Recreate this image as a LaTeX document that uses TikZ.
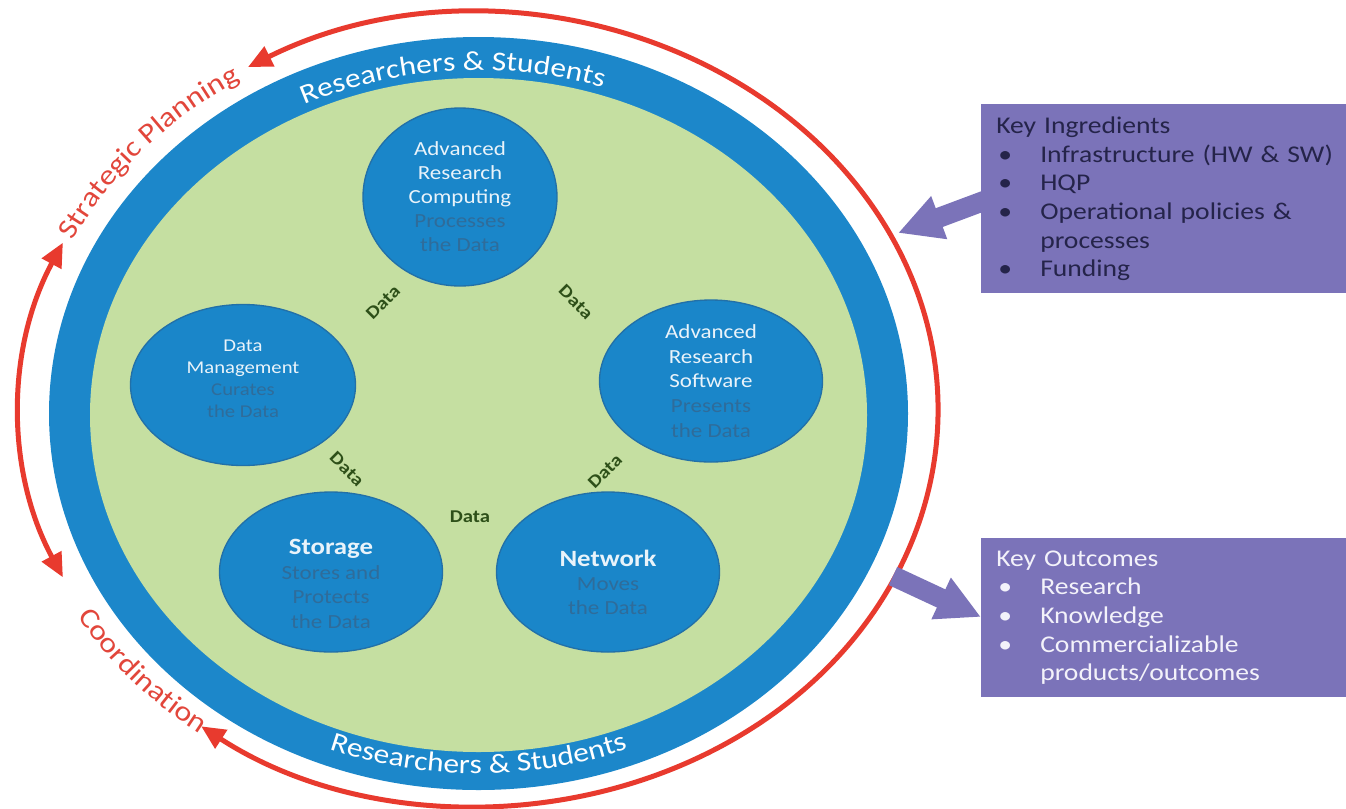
\documentclass[tikz,border=0pt]{standalone}
\usepackage{fontspec}
\setmainfont{Carlito}[FakeStretch=1.15]
\usetikzlibrary{arrows.meta,decorations.text,shapes.geometric}
\definecolor{bandblue}{HTML}{1C87CA}
\definecolor{ringgreen}{HTML}{C5DFA1}
\definecolor{circblue}{HTML}{1A86C9}
\definecolor{circedge}{HTML}{2270A8}
\definecolor{subtxt}{HTML}{2F6C9A}
\definecolor{titletxt}{HTML}{E9F3FA}
\definecolor{redline}{HTML}{E83A2E}
\definecolor{redtext}{HTML}{E2463B}
\definecolor{boxpurple}{HTML}{7B73B9}
\definecolor{kidark}{HTML}{25244A}
\definecolor{kolight}{HTML}{F3F2FA}
\definecolor{datagreen}{HTML}{2E5019}
\newcommand\bandfontstyle{\color{white}\fontsize{20.5}{24}\selectfont}
\newcommand\redfontstyle{\color{redtext}\fontsize{21}{25}\selectfont}
\newcommand\bulletitem{\makebox[33pt][l]{\hspace{1.5pt}•}}
\begin{document}
\begin{tikzpicture}[x=0.75pt,y=0.75pt,
  incirc/.style={ellipse, draw=circedge, line width=1pt, fill=circblue, inner sep=0pt},
  ctitle/.style={align=center, text=titletxt, inner sep=0pt},
  datalbl/.style={text=datagreen, font=\fontsize{13.5}{15}\selectfont\bfseries, inner sep=0pt},
  kbox/.style={fill=boxpurple, anchor=north west, align=left, inner xsep=11.25pt, inner ysep=0pt,
     font=\fontsize{18}{21.5}\selectfont, text width=262.5pt},
  fatarrow/.style={draw=boxpurple, line width=15pt, -{Triangle[length=33pt,width=32pt]}},
  redarrow/.style={draw=redline, line width=3.75pt, {Triangle[length=18pt,width=16pt]}-{Triangle[length=18pt,width=16pt]}}
]
\useasboundingbox (0,0) rectangle (1346,-808);
\fill[white] (0,0) rectangle (1346,-808);

% rings
\fill[bandblue] (478.5,-413.5) ellipse [x radius=429.5, y radius=376.5];
\fill[ringgreen] (478.5,-415) ellipse [x radius=388.5, y radius=337];

% band texts
\path[decorate, decoration={text along path, text align=center,
  text={|\bandfontstyle|Researchers {\&} Students}}]
  ([shift={(478.5,-413.5)}]134:395 and 343.5) arc[start angle=134, end angle=54, x radius=395, y radius=343.5];
\path[decorate, decoration={text along path, text align=center,
  text={|\bandfontstyle|Researchers {\&} Students}}]
  ([shift={(478.5,-413.5)}]230:413 and 360) arc[start angle=230, end angle=310, x radius=413, y radius=360];

% red arcs
\draw[redarrow] ([shift={(478,-410)}]120:460 and 396) arc[start angle=120, end angle=-127, x radius=460, y radius=396];
\draw[redarrow] ([shift={(478,-410)}]155:458 and 396) arc[start angle=155, end angle=205, x radius=458, y radius=396];
\path[decorate, decoration={text along path, text align=center,
  text={|\redfontstyle|Strategic Planning}}]
  ([shift={(478,-410)}]154:450 and 388) arc[start angle=154, end angle=122, x radius=450, y radius=388];
\path[decorate, decoration={text along path, text align=center,
  text={|\redfontstyle|Coordination}}]
  ([shift={(478,-410)}]209:466 and 404) arc[start angle=209, end angle=235, x radius=466, y radius=404];

% inner circles
\node[incirc, minimum width=145.5pt, minimum height=133.5pt] (arc) at (460,-197) {};
\node[incirc, minimum width=168.75pt, minimum height=120.75pt] (dm) at (243,-385) {};
\node[incirc, minimum width=167.25pt, minimum height=121.5pt] (ars) at (711,-381) {};
\node[incirc, minimum width=167.25pt, minimum height=120pt] (st) at (331,-572) {};
\node[incirc, minimum width=167.25pt, minimum height=120pt] (nw) at (608,-572) {};

\node[ctitle, font=\fontsize{15}{18}\selectfont] (arct) at (arc.center) {Advanced\\Research\\Computing\\\textcolor{subtxt}{Processes}\\\textcolor{subtxt}{the Data}};
\node[ctitle, font=\fontsize{13.5}{16.5}\selectfont] (dmt) at ([yshift=4.5pt]dm.center) {Data\\Management\\\textcolor{subtxt}{Curates}\\\textcolor{subtxt}{the Data}};
\node[ctitle, font=\fontsize{15}{18.5}\selectfont] (arst) at (ars.center) {Advanced\\Research\\Software\\\textcolor{subtxt}{Presents}\\\textcolor{subtxt}{the Data}};
\node[ctitle, font=\fontsize{15}{18.5}\selectfont] (stt) at ([yshift=-9pt]st.center) {{\fontsize{17.5}{19}\selectfont\bfseries Storage}\\\textcolor{subtxt}{Stores and}\\\textcolor{subtxt}{Protects}\\\textcolor{subtxt}{the Data}};
\node[ctitle, font=\fontsize{15}{18}\selectfont] (nwt) at ([yshift=-8pt]nw.center) {{\fontsize{17.5}{19}\selectfont\bfseries Network}\\\textcolor{subtxt}{Moves}\\\textcolor{subtxt}{the Data}};

% data labels
\node[datalbl, rotate=45] (d1) at (383,-302) {Data};
\node[datalbl, rotate=-45] (d2) at (576,-302) {Data};
\node[datalbl, rotate=-45] (d3) at (347,-469) {Data};
\node[datalbl, rotate=45] (d4) at (605,-471) {Data};
\node[datalbl] (d5) at (470,-517) {Data};

% boxes
\node[kbox, text=kidark, minimum height=141.75pt] (ki) at (981,-104) {Key Ingredients\\
\bulletitem Infrastructure (HW \& SW)\\
\bulletitem HQP\\
\bulletitem Operational policies \&\\
\makebox[33pt]{}processes\\
\bulletitem Funding};
\node[kbox, text=kolight, minimum height=119.25pt] (ko) at (981,-538) {Key Outcomes\\
\bulletitem Research\\
\bulletitem Knowledge\\
\bulletitem Commercializable\\
\makebox[33pt]{}products/outcomes};

% box arrows
\coordinate (kitail) at (990,-202);
\coordinate (kitip) at (898,-233);
\coordinate (kotail) at (893,-576);
\coordinate (kotip) at (980,-617);
\draw[fatarrow, shorten <=-8pt] (ki.west |- kitail) -- (kitip);
\draw[fatarrow] (kotail) -- (ko.west |- kotip);
\end{tikzpicture}
\end{document}
